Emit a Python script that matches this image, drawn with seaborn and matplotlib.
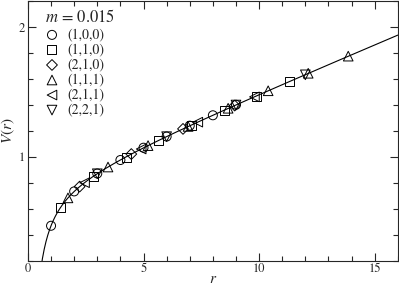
import numpy as np
import pandas as pd
import matplotlib
matplotlib.use("Agg")
import matplotlib.pyplot as plt
import seaborn as sns
from matplotlib.ticker import MultipleLocator

sns.set_style("ticks")
plt.rcParams['font.family'] = ['STIXGeneral', 'Liberation Serif', 'DejaVu Serif']
plt.rcParams['mathtext.fontset'] = 'stix'

labels = ['(1,0,0)', '(1,1,0)', '(2,1,0)', '(1,1,1)', '(2,1,1)', '(2,2,1)']
r_100 = [1.0, 2.0, 3.0, 4.0, 5.0, 6.0, 7.0, 8.0, 9.0]
v_100 = [0.47, 0.735, 0.873, 0.977, 1.072, 1.158, 1.242, 1.322, 1.403]
r_110 = [1.414, 2.828, 4.243, 5.657, 7.071, 8.485, 9.899, 11.314]
v_110 = [0.612, 0.850, 1.000, 1.128, 1.246, 1.360, 1.470, 1.582]
r_210 = [2.236, 4.472, 6.708, 8.944]
v_210 = [0.772, 1.023, 1.217, 1.397]
r_111 = [1.732, 3.464, 5.196, 6.928, 8.660, 10.392, 12.124, 13.856]
v_111 = [0.685, 0.923, 1.088, 1.236, 1.376, 1.511, 1.646, 1.778]
r_211 = [2.449, 4.899, 7.348, 9.798]
v_211 = [0.802, 1.062, 1.269, 1.464]
r_221 = [3.0, 6.0, 9.0, 12.0]
v_221 = [0.871, 1.157, 1.401, 1.634]

# fitted potential V(r) = c + sigma*r - alpha/r
fit_c, fit_sigma, fit_alpha = 0.775, 0.0743, 0.379

rows = []
for lab, rr, vv in zip(labels,
                       [r_100, r_110, r_210, r_111, r_211, r_221],
                       [v_100, v_110, v_210, v_111, v_211, v_221]):
    for a, b in zip(rr, vv):
        rows.append({'r': a, 'V': b, 'dir': lab})
df = pd.DataFrame(rows)

r_fit = np.linspace(0.55, 16, 400)
fit_df = pd.DataFrame({'r': r_fit, 'V': fit_c + fit_sigma * r_fit - fit_alpha / r_fit})

fig = plt.figure(figsize=(3.99, 2.85), dpi=100)
ax = fig.add_axes([0.070, 0.085, 0.927, 0.910])

sns.lineplot(data=fit_df, x='r', y='V', color='black', linewidth=0.8, ax=ax, legend=False)

markers = {'(1,0,0)': 'o', '(1,1,0)': 's', '(2,1,0)': 'D',
           '(1,1,1)': '^', '(2,1,1)': '<', '(2,2,1)': 'v'}
sizes = {'(1,0,0)': 42, '(1,1,0)': 42, '(2,1,0)': 30,
         '(1,1,1)': 48, '(2,1,1)': 48, '(2,2,1)': 48}
for lab in labels:
    sub = df[df['dir'] == lab]
    sns.scatterplot(data=sub, x='r', y='V', marker=markers[lab], s=sizes[lab],
                    facecolor='none', edgecolor='black', linewidth=0.7,
                    label=lab, ax=ax, zorder=3)

ax.set_xlim(0, 16)
ax.set_ylim(0.2, 2.2)
ax.xaxis.set_major_locator(MultipleLocator(5))
ax.xaxis.set_minor_locator(MultipleLocator(1))
ax.set_yticks([1, 2])
ax.yaxis.set_minor_locator(MultipleLocator(0.2))
ax.tick_params(which='both', direction='in', top=True, right=True, labelsize=9, pad=2)
ax.tick_params(which='major', length=6, width=0.8)
ax.tick_params(which='minor', length=3.5, width=0.8)
for s in ax.spines.values():
    s.set_linewidth(0.8)

ax.set_xlabel('$r$', fontsize=11, labelpad=-2)
ax.set_ylabel('$V(r)$', fontsize=11, labelpad=1)

leg = ax.legend(title='$m$ = 0.015', loc='upper left', frameon=False,
                fontsize=10, title_fontsize=12, handletextpad=0.6,
                labelspacing=0.12, borderaxespad=0.0, borderpad=0.3,
                handlelength=1.0, bbox_to_anchor=(0.035, 0.985))
leg._legend_box.align = 'left'

fig.savefig('out.png', dpi=100)
